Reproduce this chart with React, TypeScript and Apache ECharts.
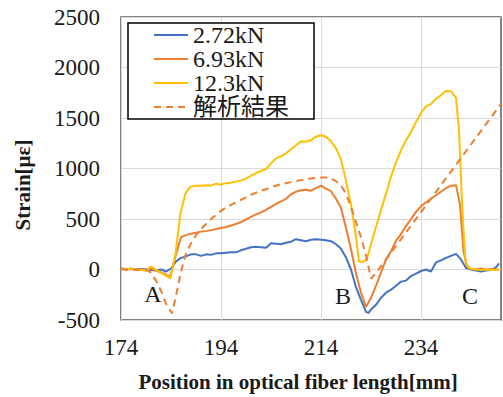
import React, { useEffect, useRef } from 'react';
import * as echarts from 'echarts';

// Tick values
const xTicks = [174, 194, 214, 234];
const yMin = -500;
const yMax = 2500;
const yStep = 500;

const seriesNames = ['2.72kN', '6.93kN', '12.3kN', '解析結果'];
const pointLabels = ['A', 'B', 'C'];

// [position mm, strain με]
const load272: [number, number][] = [
  [174, 10], [175, 5], [176, 8], [177, 0], [178, 5], [179, 0], [180, -5], [181, -10], [182, 0], [183, -20],
  [184, 10], [185, 80], [186, 115], [187, 130], [188, 150], [189, 150], [190, 135], [191, 150], [192, 145],
  [193, 160], [194, 160], [195, 165], [196, 170], [197, 170], [198, 190], [199, 205], [200, 220], [201, 225],
  [202, 220], [203, 215], [204, 260], [205, 255], [206, 250], [207, 265], [208, 275], [209, 300], [210, 290],
  [211, 280], [212, 295], [213, 300], [214, 295], [215, 290], [216, 280], [217, 250], [218, 205], [219, 120],
  [220, 0], [221, -175], [222, -300], [223, -420], [223.5, -430], [224, -395], [225, -350], [226, -280],
  [227, -230], [228, -200], [229, -160], [230, -120], [231, -110], [232, -65], [233, -40], [234, -15], [235, 0],
  [236, -20], [237, 70], [238, 90], [239, 115], [240, 135], [241, 155], [242, 100], [243, 15], [244, 0],
  [245, -10], [246, -20], [247, -10], [248, -5], [249, 20], [249.6, 60],
];

const load693: [number, number][] = [
  [174, 10], [175, 0], [176, 5], [177, -5], [178, 0], [179, -10], [180, 10], [181, -10], [182, -30], [183, -50],
  [183.8, -75], [185, 150], [186, 320], [187, 340], [188, 355], [189, 365], [190, 375], [191, 380], [192, 390],
  [193, 400], [194, 410], [195, 420], [196, 435], [197, 450], [198, 470], [199, 495], [200, 520], [201, 545],
  [202, 565], [203, 590], [204, 620], [205, 650], [206, 675], [207, 700], [208, 745], [209, 770], [210, 785],
  [211, 790], [212, 780], [213, 805], [214, 830], [215, 800], [216, 775], [217, 700], [218, 610], [219, 410],
  [220, 200], [221, -40], [222, -230], [223, -370], [224, -280], [225, -160], [226, -30], [227, 100], [228, 180],
  [229, 285], [230, 350], [231, 430], [232, 500], [233, 570], [234, 625], [235, 665], [236, 700], [237, 735],
  [238, 770], [239, 805], [240, 830], [241, 835], [241.8, 640], [242.5, 180], [243.2, 30], [244, 5], [245, 0],
  [246, 10], [247, 0], [248, 5], [249, 0], [249.6, -5],
];

const load123: [number, number][] = [
  [174, 10], [175, 0], [176, 10], [177, 0], [178, -5], [179, -10], [180, 30], [181, -5], [182, -30], [183, -60],
  [183.9, -87], [184.9, 160], [185.9, 556], [186.9, 754], [187.9, 820], [189, 830], [190, 830], [191, 835],
  [192, 830], [193, 850], [194, 840], [195, 855], [196, 860], [197, 870], [198, 880], [199, 900], [200, 930],
  [201, 955], [202, 975], [203, 995], [204, 1050], [205, 1100], [206, 1120], [207, 1150], [208, 1190],
  [209, 1230], [210, 1270], [211, 1265], [212, 1280], [213, 1315], [214, 1330], [215, 1315], [216, 1270],
  [217, 1200], [218, 1090], [219, 880], [220, 640], [221, 320], [221.6, 77], [222.6, 77], [223.3, 127],
  [224, 250], [225, 420], [226, 590], [227, 750], [228, 920], [229, 1060], [230, 1180], [231, 1280], [232, 1360],
  [233, 1460], [234, 1550], [235, 1615], [236, 1640], [237, 1690], [238, 1725], [239, 1770], [240, 1765],
  [241, 1700], [241.6, 1380], [242.3, 556], [242.9, 77], [243.6, 12], [245, 0], [246, -5], [247, 0], [248, -5],
  [249, -5], [249.6, 0],
];

const analysis: [number, number][] = [
  [174, 0], [179, 0], [180, -30], [181, -110], [182, -210], [183, -340], [184.2, -434], [185, -260], [186, -20],
  [187, 160], [188, 260], [189, 340], [190, 400], [191, 450], [192, 500], [193, 540], [194, 580], [195, 615],
  [196, 640], [197, 665], [198, 690], [199, 715], [200, 740], [201, 760], [202, 780], [203, 795], [204, 815],
  [205, 830], [206, 845], [207, 855], [208, 865], [209, 875], [210, 885], [211, 893], [212, 900], [213, 907],
  [214, 910], [215, 910], [216, 900], [217, 875], [218, 830], [219, 750], [220, 620], [221, 470], [222, 320],
  [223, 140], [224, -90], [225, -35], [250, 1640],
];

const SERIF = 'Liberation Serif';
const LEGEND_FONT = 'Liberation Serif, Noto Sans CJK JP';
const TEXT = '#1a1a1a';

export default function App() {
  const ref = useRef<HTMLDivElement>(null);

  useEffect(() => {
    if (!ref.current) return;
    const chart = echarts.init(ref.current, null, { renderer: 'svg' });
    const colors = ['#4472C4', '#ED7D31', '#FFC000', '#ED7D31'];
    const datasets = [load272, load693, load123, analysis];
    const letterPos = [
      [153, 294],
      [343, 296],
      [470, 296],
    ];

    chart.setOption({
      animation: false,
      color: colors,
      grid: {
        left: 121,
        top: 17,
        width: 380,
        height: 303,
        show: true,
        borderColor: '#595959',
        borderWidth: 1.5,
        containLabel: false,
      },
      legend: {
        left: 128,
        top: 23,
        orient: 'vertical',
        itemWidth: 34,
        itemHeight: 14,
        itemGap: 0,
        padding: [0, 25, 0, 25],
        borderColor: '#000',
        borderWidth: 1.5,
        backgroundColor: '#fff',
        data: seriesNames,
        itemStyle: { opacity: 0 },
        textStyle: { fontFamily: LEGEND_FONT, fontSize: 24, fontWeight: 'normal', color: TEXT },
      },
      xAxis: {
        type: 'value',
        min: 174,
        max: 250,
        axisLine: { show: false },
        axisTick: { show: false, customValues: xTicks },
        axisLabel: {
          customValues: xTicks,
          fontFamily: SERIF,
          fontWeight: 'normal',
          fontSize: 23,
          color: TEXT,
          margin: 16,
        },
        splitLine: { show: true, lineStyle: { color: '#d9d9d9', width: 1 } },
      },
      yAxis: {
        type: 'value',
        min: yMin,
        max: yMax,
        interval: yStep,
        axisLine: { show: false },
        axisTick: { show: false },
        axisLabel: {
          fontFamily: SERIF,
          fontWeight: 'normal',
          fontSize: 23,
          color: TEXT,
          margin: 21,
          formatter: (v: number) => String(v),
        },
        splitLine: { show: true, lineStyle: { color: '#d9d9d9', width: 1 } },
      },
      graphic: [
        {
          type: 'text',
          x: 23,
          y: 185,
          rotation: Math.PI / 2,
          style: {
            text: 'Strain[με]',
            fontFamily: SERIF,
            fontWeight: 'bold',
            fontSize: 21,
            fill: TEXT,
            align: 'center',
            verticalAlign: 'middle',
          },
        },
        {
          type: 'text',
          x: 298,
          y: 382,
          style: {
            text: 'Position in optical fiber length[mm]',
            fontFamily: SERIF,
            fontWeight: 'bold',
            fontSize: 21,
            fill: TEXT,
            align: 'center',
            verticalAlign: 'middle',
          },
        },
        ...pointLabels.map((t, i) => ({
          type: 'text',
          x: letterPos[i][0],
          y: letterPos[i][1],
          style: {
            text: t,
            fontFamily: SERIF,
            fontWeight: 'normal',
            fontSize: 24,
            fill: TEXT,
            align: 'center',
            verticalAlign: 'middle',
          },
        })),
      ],
      series: seriesNames.map((name, i) => ({
        name,
        type: 'line',
        data: datasets[i],
        symbol: 'none',
        showSymbol: false,
        smooth: false,
        lineStyle: {
          color: colors[i],
          width: 2,
          type: i === 3 ? [7, 5] : 'solid',
        },
        itemStyle: { color: colors[i] },
      })),
    });

    return () => {
      chart.dispose();
    };
  }, []);

  return (
    <div
      ref={ref}
      style={{ position: 'fixed', left: 0, top: 0, width: 503, height: 397, background: '#fff' }}
    />
  );
}
